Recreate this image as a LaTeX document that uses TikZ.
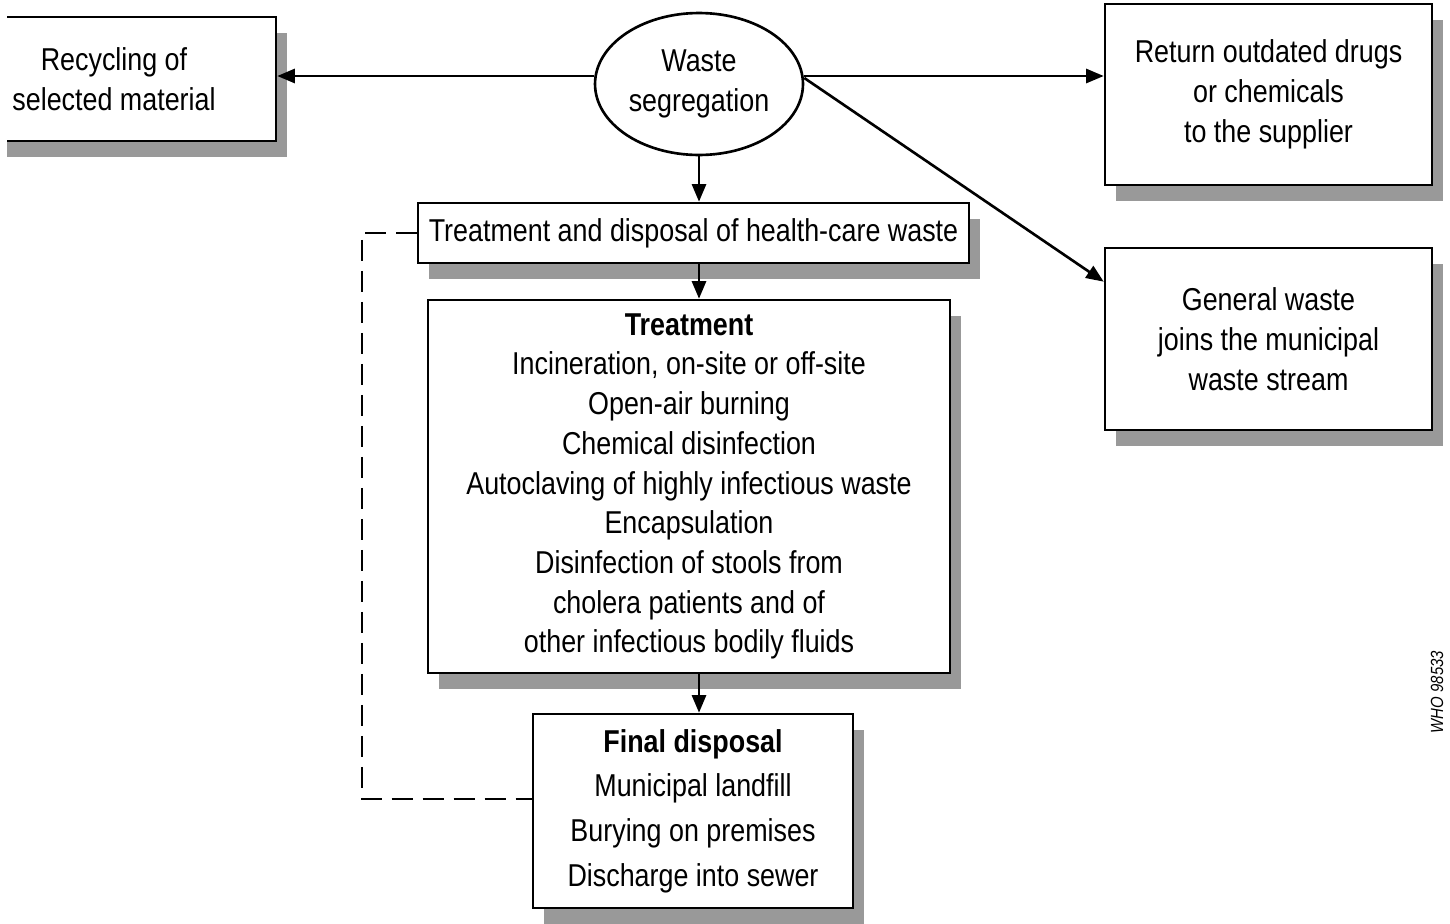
\documentclass[tikz,border=0pt]{standalone}
\usepackage{fontspec}
\setmainfont{Liberation Sans}[FakeStretch=0.85]
\usetikzlibrary{shapes.geometric, arrows.meta, shadows}

\begin{document}
\begin{tikzpicture}[x=0.02cm, y=-0.02cm, line width=1.5pt,
    every node/.style={font=\fontsize{18}{22.6}\selectfont, align=center, inner sep=0pt},
    box/.style={draw, fill=white, rectangle, drop shadow={shadow xshift=0.22cm, shadow yshift=-0.32cm, fill=black!40, opacity=1}},
    arr/.style={-{Triangle[length=10pt, width=8pt]}},
    back/.style={line width=1.1pt, dash pattern=on 0.42cm off 0.2cm}]
    \useasboundingbox (0,0) rectangle (1450,923);
    \clip (7,0) rectangle (1450,923);

    % Segregation and the three ways out of it
    \node[draw, ellipse, minimum width=4.16cm, minimum height=2.84cm] (seg) at (699,84) {Waste\\segregation};
    \node[box, minimum width=6.48cm, minimum height=2.48cm] (rec) at (114,79) {Recycling of\\selected material};
    \node[box, minimum width=6.54cm, minimum height=3.62cm] (ret) at (1268.5,94.5) {Return outdated drugs\\or chemicals\\to the supplier};
    \node[box, minimum width=6.54cm, minimum height=3.64cm] (gen) at (1268.5,339) {General waste\\joins the municipal\\waste stream};

    % Health-care waste chain
    \node[box, minimum width=11.02cm, minimum height=1.2cm] (hcw) at (693.5,233) {Treatment and disposal of health-care waste};
    \node[box, minimum width=10.44cm, minimum height=7.46cm] (treat) at (689,486.5) {\textbf{Treatment}\\Incineration, on-site or off-site\\Open-air burning\\Chemical disinfection\\Autoclaving of highly infectious waste\\Encapsulation\\Disinfection of stools from\\cholera patients and of\\other infectious bodily fluids};
    \node[box, minimum width=6.4cm, minimum height=3.88cm, font=\fontsize{18}{25.4}\selectfont] (final) at (693,811) {\textbf{Final disposal}\\Municipal landfill\\Burying on premises\\Discharge into sewer};
    \node[rotate=90, font=\fontsize{10}{12}\selectfont\itshape] (who) at (1437,692) {WHO 98533};

    % Connectors
    \draw[arr] ([yshift=0.16cm]seg.west) -- ([yshift=0.16cm]seg.west -| rec.east);
    \draw[arr] ([yshift=0.16cm]seg.east) -- ([yshift=0.16cm]seg.east -| ret.west);
    \draw[arr] ([yshift=0.12cm]seg.east) -- ([yshift=-0.7cm]gen.north west);
    \draw[arr] (seg.south) -- (seg.south |- hcw.north);
    \draw[arr] (seg.south |- hcw.south) -- (seg.south |- treat.north);
    \draw[arr] (seg.south |- treat.south) -- (seg.south |- final.north);
    \draw[back] (hcw.west) -- ++(-55,0) |- ([yshift=0.24cm]final.west);
\end{tikzpicture}
\end{document}
